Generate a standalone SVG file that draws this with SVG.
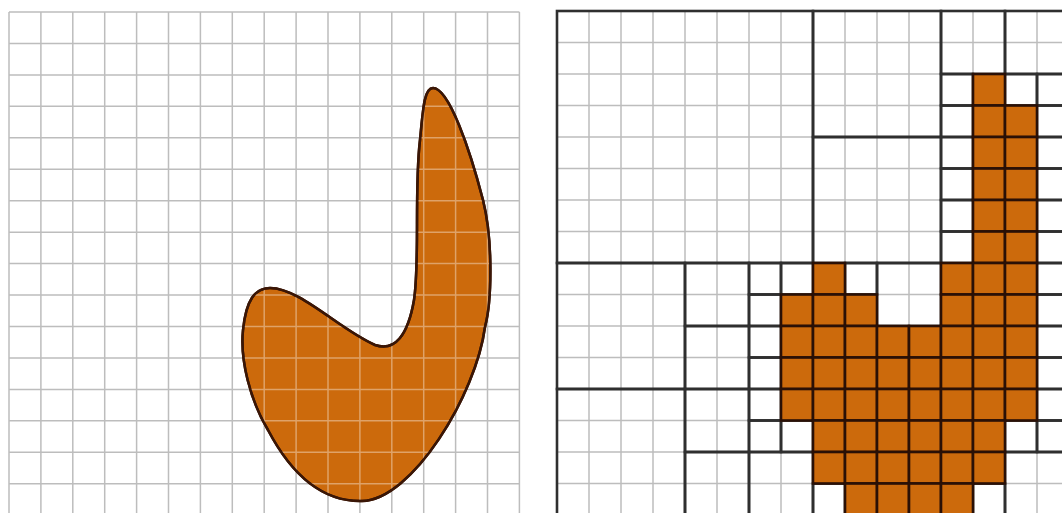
<svg xmlns="http://www.w3.org/2000/svg" width="1062" height="513" viewBox="0 0 1062 513">
<defs>
<style>
.g{stroke:#bdbdbd;stroke-width:1.5;fill:none}
.gi{stroke:#ffffff;stroke-opacity:0.38;stroke-width:1.5;fill:none}
.blob{fill:#cc6a0c;stroke:#3a1606;stroke-width:2.5}
.w{fill:none;stroke:#2f2f2f;stroke-width:2.6}
.f{fill:#cc6a0c;stroke:#2a1006;stroke-width:2.6}
</style>
<path id="blobPath" d="M433,88 C449,88 470,150 483,200 C493,240 492,300 485,327 C476,395 412,500 362,501 C318,502 288,468 268,430 C250,400 240,360 243,330 C246,300 255,288 270,288 C300,288 340,330 375,345 C395,352 408,335 414,300 C420,260 414,190 420,140 C423,110 424,88 433,88 Z"/>
<clipPath id="blobClip"><use href="#blobPath"/></clipPath>
<path id="leftGrid" d="M9,12V513M40.9,12V513M72.8,12V513M104.7,12V513M136.6,12V513M168.5,12V513M200.4,12V513M232.3,12V513M264.2,12V513M296.1,12V513M328,12V513M359.9,12V513M391.8,12V513M423.7,12V513M455.6,12V513M487.5,12V513M519.4,12V513M9,12H519.4M9,43.45H519.4M9,74.9H519.4M9,106.35H519.4M9,137.8H519.4M9,169.25H519.4M9,200.7H519.4M9,232.15H519.4M9,263.6H519.4M9,295.05H519.4M9,326.5H519.4M9,357.95H519.4M9,389.4H519.4M9,420.85H519.4M9,452.3H519.4M9,483.75H519.4"/>
</defs>
<rect width="1062" height="513" fill="#ffffff"/>

<g id="left-panel">
<use href="#leftGrid" class="g"/>
<use href="#blobPath" class="blob"/>
<g clip-path="url(#blobClip)"><use href="#leftGrid" class="gi"/></g>
<use href="#blobPath" fill="none" stroke="#3a1606" stroke-width="2.5"/>
</g>

<g id="right-panel">
<path class="g" d="M557,11V513M589,11V513M621,11V513M653,11V513M685,11V513M717,11V513M749,11V513M781,11V513M813,11V513M845,11V513M877,11V513M909,11V513M941,11V513M973,11V513M1005,11V513M1037,11V513M557,11H1062M557,42.5H1062M557,74H1062M557,105.5H1062M557,137H1062M557,168.5H1062M557,200H1062M557,231.5H1062M557,263H1062M557,294.5H1062M557,326H1062M557,357.5H1062M557,389H1062M557,420.5H1062M557,452H1062M557,483.5H1062"/>

<g id="empty-leaves">
<rect class="w" x="557" y="11" width="256" height="252"/>
<rect class="w" x="813" y="11" width="128" height="126"/>
<rect class="w" x="813" y="137" width="128" height="126"/>
<rect class="w" x="941" y="11" width="64" height="63"/>
<rect class="w" x="1005" y="11" width="64" height="63"/>
<rect class="w" x="941" y="74" width="32" height="31.5"/>
<rect class="w" x="1005" y="74" width="32" height="31.5"/>
<rect class="w" x="1037" y="74" width="32" height="31.5"/>
<rect class="w" x="941" y="105.5" width="32" height="31.5"/>
<rect class="w" x="1037" y="105.5" width="32" height="31.5"/>
<rect class="w" x="941" y="137" width="32" height="31.5"/>
<rect class="w" x="941" y="168.5" width="32" height="31.5"/>
<rect class="w" x="941" y="200" width="32" height="31.5"/>
<rect class="w" x="941" y="231.5" width="32" height="31.5"/>
<rect class="w" x="1037" y="137" width="32" height="31.5"/>
<rect class="w" x="1037" y="168.5" width="32" height="31.5"/>
<rect class="w" x="1037" y="200" width="32" height="31.5"/>
<rect class="w" x="1037" y="231.5" width="32" height="31.5"/>
<rect class="w" x="557" y="263" width="128" height="126"/>
<rect class="w" x="557" y="389" width="128" height="126"/>
<rect class="w" x="685" y="263" width="64" height="63"/>
<rect class="w" x="749" y="263" width="32" height="31.5"/>
<rect class="w" x="781" y="263" width="32" height="31.5"/>
<rect class="w" x="749" y="294.5" width="32" height="31.5"/>
<rect class="w" x="685" y="326" width="64" height="63"/>
<rect class="w" x="749" y="326" width="32" height="31.5"/>
<rect class="w" x="749" y="357.5" width="32" height="31.5"/>
<rect class="w" x="685" y="389" width="64" height="63"/>
<rect class="w" x="749" y="389" width="32" height="31.5"/>
<rect class="w" x="749" y="420.5" width="32" height="31.5"/>
<rect class="w" x="781" y="420.5" width="32" height="31.5"/>
<rect class="w" x="685" y="452" width="64" height="63"/>
<rect class="w" x="749" y="452" width="64" height="63"/>
<rect class="w" x="845" y="263" width="32" height="31.5"/>
<rect class="w" x="877" y="263" width="64" height="63"/>
<rect class="w" x="1037" y="263" width="32" height="31.5"/>
<rect class="w" x="1037" y="294.5" width="32" height="31.5"/>
<rect class="w" x="1037" y="326" width="32" height="31.5"/>
<rect class="w" x="1037" y="357.5" width="32" height="31.5"/>
<rect class="w" x="1037" y="389" width="32" height="31.5"/>
<rect class="w" x="1005" y="420.5" width="32" height="31.5"/>
<rect class="w" x="1037" y="420.5" width="32" height="31.5"/>
<rect class="w" x="1005" y="452" width="64" height="63"/>
<rect class="w" x="813" y="483.5" width="32" height="31.5"/>
<rect class="w" x="973" y="483.5" width="32" height="31.5"/>
</g>

<g id="filled-cells">
<rect class="f" x="973" y="74" width="32" height="31.5"/>
<rect class="f" x="973" y="105.5" width="32" height="31.5"/>
<rect class="f" x="1005" y="105.5" width="32" height="31.5"/>
<rect class="f" x="973" y="137" width="32" height="31.5"/>
<rect class="f" x="1005" y="137" width="32" height="31.5"/>
<rect class="f" x="973" y="168.5" width="32" height="31.5"/>
<rect class="f" x="1005" y="168.5" width="32" height="31.5"/>
<rect class="f" x="973" y="200" width="32" height="31.5"/>
<rect class="f" x="1005" y="200" width="32" height="31.5"/>
<rect class="f" x="973" y="231.5" width="32" height="31.5"/>
<rect class="f" x="1005" y="231.5" width="32" height="31.5"/>
<rect class="f" x="781" y="294.5" width="32" height="31.5"/>
<rect class="f" x="781" y="326" width="32" height="31.5"/>
<rect class="f" x="781" y="357.5" width="32" height="31.5"/>
<rect class="f" x="781" y="389" width="32" height="31.5"/>
<rect class="f" x="813" y="263" width="32" height="31.5"/>
<rect class="f" x="941" y="263" width="32" height="31.5"/>
<rect class="f" x="973" y="263" width="32" height="31.5"/>
<rect class="f" x="1005" y="263" width="32" height="31.5"/>
<rect class="f" x="813" y="294.5" width="32" height="31.5"/>
<rect class="f" x="845" y="294.5" width="32" height="31.5"/>
<rect class="f" x="941" y="294.5" width="32" height="31.5"/>
<rect class="f" x="973" y="294.5" width="32" height="31.5"/>
<rect class="f" x="1005" y="294.5" width="32" height="31.5"/>
<rect class="f" x="813" y="326" width="32" height="31.5"/>
<rect class="f" x="845" y="326" width="32" height="31.5"/>
<rect class="f" x="877" y="326" width="32" height="31.5"/>
<rect class="f" x="909" y="326" width="32" height="31.5"/>
<rect class="f" x="941" y="326" width="32" height="31.5"/>
<rect class="f" x="973" y="326" width="32" height="31.5"/>
<rect class="f" x="1005" y="326" width="32" height="31.5"/>
<rect class="f" x="813" y="357.5" width="32" height="31.5"/>
<rect class="f" x="845" y="357.5" width="32" height="31.5"/>
<rect class="f" x="877" y="357.5" width="32" height="31.5"/>
<rect class="f" x="909" y="357.5" width="32" height="31.5"/>
<rect class="f" x="941" y="357.5" width="32" height="31.5"/>
<rect class="f" x="973" y="357.5" width="32" height="31.5"/>
<rect class="f" x="1005" y="357.5" width="32" height="31.5"/>
<rect class="f" x="813" y="389" width="32" height="31.5"/>
<rect class="f" x="845" y="389" width="32" height="31.5"/>
<rect class="f" x="877" y="389" width="32" height="31.5"/>
<rect class="f" x="909" y="389" width="32" height="31.5"/>
<rect class="f" x="941" y="389" width="32" height="31.5"/>
<rect class="f" x="973" y="389" width="32" height="31.5"/>
<rect class="f" x="1005" y="389" width="32" height="31.5"/>
<rect class="f" x="813" y="420.5" width="32" height="31.5"/>
<rect class="f" x="845" y="420.5" width="32" height="31.5"/>
<rect class="f" x="877" y="420.5" width="32" height="31.5"/>
<rect class="f" x="909" y="420.5" width="32" height="31.5"/>
<rect class="f" x="941" y="420.5" width="32" height="31.5"/>
<rect class="f" x="973" y="420.5" width="32" height="31.5"/>
<rect class="f" x="813" y="452" width="32" height="31.5"/>
<rect class="f" x="845" y="452" width="32" height="31.5"/>
<rect class="f" x="877" y="452" width="32" height="31.5"/>
<rect class="f" x="909" y="452" width="32" height="31.5"/>
<rect class="f" x="941" y="452" width="32" height="31.5"/>
<rect class="f" x="973" y="452" width="32" height="31.5"/>
<rect class="f" x="845" y="483.5" width="32" height="31.5"/>
<rect class="f" x="877" y="483.5" width="32" height="31.5"/>
<rect class="f" x="909" y="483.5" width="32" height="31.5"/>
<rect class="f" x="941" y="483.5" width="32" height="31.5"/>
</g>
</g>
</svg>
